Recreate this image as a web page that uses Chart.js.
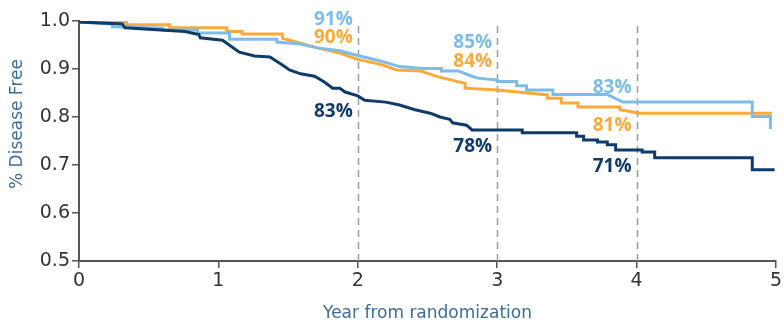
<!DOCTYPE html>
<html>
<head>
<meta charset="utf-8">
<script src="https://cdn.jsdelivr.net/npm/chart.js@4/dist/chart.umd.min.js"></script>
<style>
  html, body { margin: 0; padding: 0; background: #ffffff; }
  #wrap { width: 784px; height: 324px; }
</style>
</head>
<body>
<div id="wrap"><canvas id="km" width="784" height="324"></canvas></div>
<script>
// Kaplan-Meier disease-free survival, three arms: [year, proportion disease free]
const armLightBlue = [
  [0, 0.998], [0.24, 0.994], [0.24, 0.988], [0.60, 0.985], [0.60, 0.981], [0.85, 0.981],
  [0.85, 0.975], [1.08, 0.975], [1.08, 0.962], [1.42, 0.962], [1.42, 0.956], [1.59, 0.952],
  [1.71, 0.944], [1.87, 0.938], [2.00, 0.928], [2.16, 0.917], [2.30, 0.905], [2.47, 0.901],
  [2.60, 0.901], [2.60, 0.896], [2.72, 0.896], [2.80, 0.887], [2.86, 0.881], [3.00, 0.877],
  [3.00, 0.874], [3.14, 0.874], [3.14, 0.865], [3.21, 0.865], [3.21, 0.856], [3.40, 0.856],
  [3.40, 0.847], [3.79, 0.847], [3.90, 0.831], [4.83, 0.831], [4.83, 0.801], [4.96, 0.801],
  [4.96, 0.775]
];

const armOrange = [
  [0, 0.997], [0.34, 0.997], [0.34, 0.992], [0.65, 0.992], [0.65, 0.986], [1.06, 0.986],
  [1.06, 0.978], [1.17, 0.978], [1.17, 0.973], [1.46, 0.973], [1.46, 0.964], [1.59, 0.954],
  [1.71, 0.944], [1.87, 0.933], [2.00, 0.920], [2.16, 0.910], [2.28, 0.898], [2.45, 0.896],
  [2.57, 0.884], [2.77, 0.870], [2.77, 0.860], [3.00, 0.856], [3.36, 0.846], [3.36, 0.839],
  [3.46, 0.839], [3.46, 0.829], [3.58, 0.829], [3.58, 0.821], [3.88, 0.821], [3.88, 0.815],
  [4.02, 0.808], [4.97, 0.808]
];

const armNavy = [
  [0, 0.998], [0.31, 0.994], [0.33, 0.986], [0.76, 0.978], [0.86, 0.972], [0.87, 0.965],
  [1.03, 0.960], [1.15, 0.935], [1.26, 0.927], [1.37, 0.925], [1.44, 0.912], [1.48, 0.904],
  [1.51, 0.898], [1.59, 0.890], [1.69, 0.885], [1.76, 0.873], [1.82, 0.860], [1.87, 0.860],
  [1.91, 0.852], [2.00, 0.844], [2.05, 0.835], [2.20, 0.831], [2.30, 0.825], [2.41, 0.815],
  [2.52, 0.808], [2.59, 0.800], [2.66, 0.795], [2.68, 0.788], [2.78, 0.783], [2.82, 0.773],
  [3.18, 0.773], [3.18, 0.767], [3.57, 0.767], [3.57, 0.760], [3.62, 0.760], [3.62, 0.752],
  [3.72, 0.752], [3.72, 0.748], [3.79, 0.748], [3.79, 0.742], [3.85, 0.742], [3.85, 0.731],
  [4.04, 0.731], [4.04, 0.727], [4.13, 0.727], [4.13, 0.715], [4.83, 0.715], [4.83, 0.690],
  [4.99, 0.690]
];

// Milestone years and the disease-free rates quoted at each
const milestoneYears = [2, 3, 4];
const ratesLightBlue = [91, 85, 83];
const ratesOrange = [90, 84, 81];
const ratesNavy = [83, 78, 71];

const yTicks = [0.5, 0.6, 0.7, 0.8, 0.9, 1.0];
const xTicks = [0, 1, 2, 3, 4, 5];

const COLORS = {
  lightBlue: '#7dbce8',
  orange: '#f8aa3b',
  navy: '#0f3b6a',
  title: '#3b6d9d',
  axis: '#555555',
  tick: '#333333',
  dash: '#9b9b9b'
};

// Where each rate label sits (baseline, in survival units), per arm and milestone
const labelBaselines = {
  lightBlue: [0.991, 0.944, 0.851],
  orange: [0.954, 0.904, 0.771],
  navy: [0.800, 0.727, 0.685]
};

const kmDecor = {
  id: 'kmDecor',
  beforeDatasetsDraw(chart) {
    const { ctx, scales: { x, y } } = chart;
    ctx.save();
    ctx.strokeStyle = COLORS.dash;
    ctx.lineWidth = 1.5;
    ctx.setLineDash([7, 5]);
    milestoneYears.forEach(yr => {
      const px = Math.round(x.getPixelForValue(yr)) + 0.5;
      ctx.beginPath();
      ctx.moveTo(px, y.getPixelForValue(0.5));
      ctx.lineTo(px, y.getPixelForValue(0.99));
      ctx.stroke();
    });
    ctx.restore();
  },
  afterDatasetsDraw(chart) {
    const { ctx, scales: { x, y } } = chart;
    ctx.save();
    ctx.font = 'bold 19px "Open Sans", "DejaVu Sans", sans-serif';
    ctx.textAlign = 'right';
    ctx.textBaseline = 'alphabetic';
    const groups = [
      [ratesLightBlue, COLORS.lightBlue, labelBaselines.lightBlue],
      [ratesOrange, COLORS.orange, labelBaselines.orange],
      [ratesNavy, COLORS.navy, labelBaselines.navy]
    ];
    groups.forEach(([rates, color, baselines]) => {
      ctx.fillStyle = color;
      rates.forEach((r, i) => {
        ctx.fillText(r + '%', x.getPixelForValue(milestoneYears[i]) - 5, y.getPixelForValue(baselines[i]));
      });
    });
    // vertical axis title
    const area = chart.chartArea;
    ctx.translate(22, area.top + 103);
    ctx.rotate(-Math.PI / 2);
    ctx.font = '17px "DejaVu Sans", sans-serif';
    ctx.fillStyle = COLORS.title;
    ctx.textAlign = 'center';
    ctx.fillText('% Disease Free', 0, 0);
    ctx.restore();
  }
};

function curve(data, color) {
  return {
    data: data,
    borderColor: color,
    backgroundColor: color,
    borderWidth: 3,
    pointRadius: 0,
    pointHoverRadius: 0,
    fill: false,
    tension: 0,
    borderJoinStyle: 'miter',
    borderCapStyle: 'butt'
  };
}

new Chart(document.getElementById('km'), {
  type: 'line',
  data: {
    datasets: [
      curve(armNavy, COLORS.navy),
      curve(armLightBlue, COLORS.lightBlue),
      curve(armOrange, COLORS.orange)
    ]
  },
  options: {
    responsive: false,
    animation: false,
    devicePixelRatio: 1,
    layout: { padding: { top: 21, right: 8, left: 0, bottom: 0 } },
    plugins: { legend: { display: false }, tooltip: { enabled: false } },
    scales: {
      x: {
        type: 'linear',
        min: 0,
        max: 5,
        afterBuildTicks: s => { s.ticks = xTicks.map(v => ({ value: v })); },
        afterFit: s => { s.height = 63; },
        ticks: {
          color: COLORS.tick,
          font: { family: 'DejaVu Sans', size: 19 },
          padding: 2,
          maxRotation: 0,
          callback: v => String(v)
        },
        grid: { drawOnChartArea: false, drawTicks: true, tickLength: 7, color: COLORS.axis, lineWidth: 1.5 },
        border: { display: true, color: COLORS.axis, width: 2 },
        title: {
          display: true,
          text: 'Year from randomization',
          color: COLORS.title,
          font: { family: 'DejaVu Sans', size: 17 },
          padding: { top: 0, bottom: 0 }
        }
      },
      y: {
        min: 0.5,
        max: 1.0,
        afterBuildTicks: s => { s.ticks = yTicks.map(v => ({ value: v })); },
        afterFit: s => { s.width = 79; },
        ticks: {
          color: COLORS.tick,
          font: { family: 'DejaVu Sans', size: 19 },
          padding: 2,
          callback: v => Number(v).toFixed(1)
        },
        grid: { drawOnChartArea: false, drawTicks: true, tickLength: 7, color: COLORS.axis, lineWidth: 1.5 },
        border: { display: true, color: COLORS.axis, width: 2 }
      }
    }
  },
  plugins: [kmDecor]
});
</script>
</body>
</html>
